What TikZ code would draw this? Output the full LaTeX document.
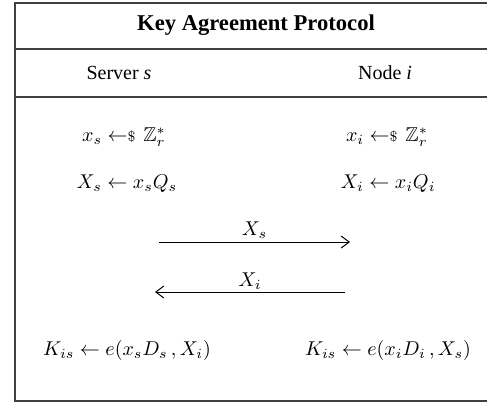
\documentclass[tikz,border=0pt]{standalone}
\usepackage{amssymb}
\usepackage{fontspec}
\setmainfont{Liberation Serif}
\usepackage{tikz}
\usetikzlibrary{arrows.meta}
\newcommand{\rndfrom}{\mathrel{\leftarrow\mathrel{{\scriptstyle\$}}\mkern2mu}}

\begin{document}
\begin{tikzpicture}[x=0.5pt,y=-0.5pt,
		every node/.style={font=\fontsize{10}{12}\selectfont},
		head/.style={font=\fontsize{11.3}{13}\selectfont\bfseries},
		msg/.style={->,>={Straight Barb[length=4pt,width=6pt]},line width=0.5pt}]
		\useasboundingbox (0,0) rectangle (487,404);
		% frame and rows
		\draw[line width=0.6pt,black!75] (487,3) -- (15,3) -- (15,401) -- (487,401);
		\draw[line width=0.6pt,black!75] (15,49) -- (487,49);
		\draw[line width=0.6pt,black!75] (15,97) -- (487,97);
		\node[head] (title) at (256,25) {Key Agreement Protocol};
		\node (srv) at (119,73) {Server \textit{s}};
		\node (nde) at (385,73) {Node \textit{i}};
		\node (rs) at (124,137) {$x_s \rndfrom \mathbb{Z}_r^*$};
		\node (ri) at (387,137) {$x_i \rndfrom \mathbb{Z}_r^*$};
		\node (ps) at (127,184) {$X_s \leftarrow x_sQ_s$};
		\node (pi) at (388,184) {$X_i \leftarrow x_iQ_i$};
		\coordinate (a1) at (159,242);
		\coordinate (b1) at (350,242);
		\coordinate (a2) at (345,292);
		\coordinate (b2) at (155,292);
		\path [msg] (a1) edge node[above,inner sep=1.5pt]{$X_s$} (b1);
		\path [msg] (a2) edge node[above,inner sep=1pt]{$X_i$} (b2);
		\node (ks) at (127,350) {$K_{is} \leftarrow e(x_sD_s\,,X_i)$};
		\node (ki) at (388,350) {$K_{is} \leftarrow e(x_iD_i\,,X_s)$};
	\end{tikzpicture}
\end{document}
